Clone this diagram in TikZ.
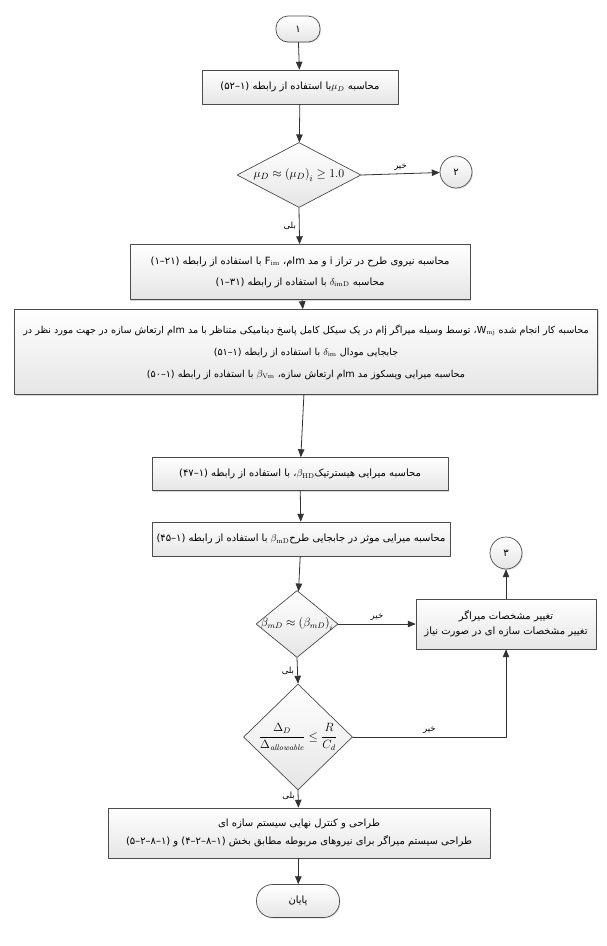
\documentclass[tikz,border=0pt]{standalone}
\usepackage{amsmath}
\usepackage{amssymb}
\usepackage{fontspec}
\newfontfamily\arabicfont[Script=Arabic]{DejaVu Sans}
\TeXXeTstate=1
\usetikzlibrary{arrows}
\usetikzlibrary{shapes.geometric}
\usetikzlibrary{shadows}
\newcommand{\fa}[1]{{\arabicfont\beginR #1\endR}}
\newcommand{\lr}[1]{\beginL #1\endL{}}
\tikzset{
  flow/.style={draw=black!80,line width=0.8pt,->},
  stepbox/.style={rectangle,draw=black!70,line width=0.7pt,top color=white,bottom color=black!10,
    drop shadow={shadow xshift=1.3pt,shadow yshift=-1.3pt,fill=black!30},align=center,inner sep=1pt},
  decide/.style={diamond,draw=black!70,line width=0.7pt,top color=white,bottom color=black!10,inner sep=0pt},
  term/.style={rectangle,rounded corners=12pt,draw=black!70,line width=0.7pt,top color=white,bottom color=black!10,
    drop shadow={shadow xshift=1pt,shadow yshift=-1pt,fill=black!25}},
  conn/.style={circle,draw=black!70,line width=0.7pt,top color=white,bottom color=black!10,
    minimum size=32pt,inner sep=0pt,drop shadow={shadow xshift=1pt,shadow yshift=-1pt,fill=black!25}},
  lbl/.style={font=\fontsize{8.5}{10}\selectfont,inner sep=3pt}
}
\begin{document}
\begin{tikzpicture}[x=1pt,y=-1pt,>=triangle 45,line cap=round,line join=round,font=\fontsize{10}{14}\selectfont]
\useasboundingbox (0,0) rectangle (606,946);
% nodes
\node[term,minimum width=44pt,minimum height=26pt] (start) at (298,29) {\fa{۱}};
\node[stepbox,minimum width=196pt,minimum height=34pt] (mu) at (300,87)
  {\fa{محاسبه \lr{$\mu_D$}با استفاده از رابطه \lr{(۱–۵۲)}}};
\node[decide,minimum width=124pt,minimum height=65pt,
  label={[font=\fontsize{13}{15}\selectfont]center:$\mu_D \approx \left(\mu_D\right)_i \geq 1.0$}] (d1) at (299,175) {};
\node[conn] (c2) at (456,172) {\fa{۲}};
\node[stepbox,minimum width=340pt,minimum height=55pt] (force) at (300,272)
  {\fa{محاسبه نیروی طرح در تراز \lr{i} و مد \lr{m}ام، \lr{F$_{\mathrm{im}}$} با استفاده از رابطه \lr{(۲۱–۱)}}\\[7pt]
   \fa{محاسبه \lr{$\delta_{\mathrm{imD}}$} با استفاده از رابطه \lr{(۳۱–۱)}}};
\node[stepbox,minimum width=583pt,minimum height=85pt,font=\fontsize{9.6}{14}\selectfont] (work) at (306,352)
  {\fa{محاسبه کار انجام شده \lr{W$_{\mathrm{mj}}$}، توسط وسیله میراگر \lr{j}ام در یک سیکل کامل پاسخ دینامیکی متناظر با مد \lr{m}ام ارتعاش سازه در جهت مورد نظر در}\\[8pt]
   \fa{جابجایی مودال \lr{$\delta_{\mathrm{im}}$} با استفاده از رابطه \lr{(۱–۵۱)}}\\[8pt]
   \fa{محاسبه میرایی ویسکوز مد \lr{m}ام ارتعاش سازه، \lr{$\beta_{\mathrm{Vm}}$} با استفاده از رابطه \lr{(۱–۵۰)}}};
\node[stepbox,minimum width=296pt,minimum height=33pt] (hyst) at (300,474)
  {\fa{محاسبه میرایی هیسترتیک\lr{$\beta_{\mathrm{HD}}$}، با استفاده از رابطه \lr{(۱–۴۷)}}};
\node[stepbox,minimum width=298pt,minimum height=34pt] (eff) at (301,539)
  {\fa{محاسبه میرایی موثر در جابجایی طرح\lr{$\beta_{\mathrm{mD}}$} با استفاده از رابطه \lr{(۱–۴۵)}}};
\node[decide,minimum width=82pt,minimum height=67pt,
  label={[font=\fontsize{11.5}{13}\selectfont]center:$\beta_{mD} \approx \left(\beta_{mD}\right)_i$}] (d2) at (297,624) {};
\node[stepbox,minimum width=180pt,minimum height=50pt] (change) at (506,624)
  {\fa{تغییر مشخصات میراگر}\\[1pt] \fa{تغییر مشخصات سازه ای در صورت نیاز}};
\node[conn] (c3) at (506,553) {\fa{۳}};
\node[decide,minimum width=109pt,minimum height=106pt,
  label={[font=\fontsize{11.5}{13}\selectfont]center:$\dfrac{\Delta_D}{\Delta_{\mathit{allowable}}} \leq \dfrac{R}{C_d}$}] (d3) at (298,737) {};
\node[stepbox,minimum width=382pt,minimum height=50pt] (final) at (299,833)
  {\fa{طراحی و کنترل نهایی سیستم سازه ای}\\[4pt]
   \fa{طراحی سیستم میراگر برای نیروهای مربوطه مطابق بخش \lr{(۱–۸–۲–۴)} و \lr{(۱–۸–۲–۵)}}};
\node[term,minimum width=83pt,minimum height=33pt,rounded corners=16pt] (stop) at (298,901) {\fa{پایان}};
% connectors
\draw[flow] (start) -- (mu);
\draw[flow] (mu) -- (d1);
\draw[flow] (d1.east) -- node[lbl,above]{\fa{خیر}} (c2);
\draw[flow] (d1.south) -- node[lbl,left]{\fa{بلی}} (force);
\draw[flow] (force) -- (work);
\draw[flow] (work) -- (hyst);
\draw[flow] (hyst) -- (eff);
\draw[flow] (eff) -- (d2);
\draw[flow] (d2.east) -- node[lbl,above]{\fa{خیر}} (change.west);
\draw[flow] (change) -- (c3);
\draw[flow] (d2.south) -- node[lbl,left]{\fa{بلی}} (d3.north);
\draw[flow] (d3.east) -| node[lbl,above,pos=.25]{\fa{خیر}} (change.south);
\draw[flow] (d3.south) -- node[lbl,left,pos=.3]{\fa{بلی}} (final);
\draw[flow] (final) -- (stop);
\end{tikzpicture}
\end{document}
